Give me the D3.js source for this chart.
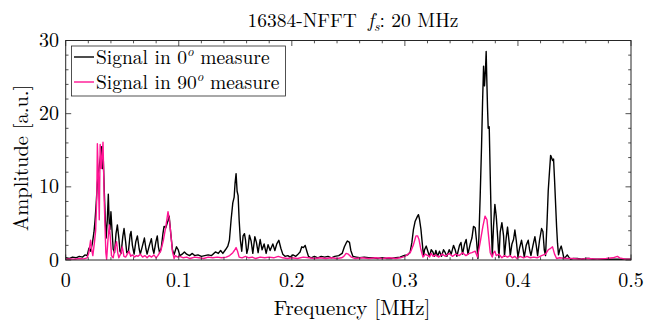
<!DOCTYPE html>
<html>
<head>
<meta charset="utf-8">
<script src="https://cdn.jsdelivr.net/npm/d3@7/dist/d3.min.js"></script>
<style>
  html, body { margin: 0; padding: 0; background: #fff; }
</style>
</head>
<body>
<svg id="chart" width="648" height="323"></svg>
<script>
// Spectrum vertices: [frequency in MHz, amplitude in a.u.]
const spectrum0 = [
  [0.000,0.3],[0.003,0.2],[0.006,0.4],[0.009,0.3],[0.012,0.5],[0.015,0.4],[0.017,0.7],[0.019,0.6],
  [0.0205,1.6],[0.022,1.2],[0.0235,2.2],[0.025,3.8],[0.026,5.5],[0.027,7.8],[0.028,10.5],[0.029,12.0],
  [0.030,13.2],[0.031,14.4],[0.0318,15.5],[0.0325,12.5],[0.0332,14.0],[0.034,10.0],[0.035,5.5],[0.0358,3.0],
  [0.0368,5.5],[0.0377,9.0],[0.0385,5.0],[0.0392,4.2],[0.040,6.6],[0.041,4.0],[0.042,1.5],[0.0432,1.0],
  [0.0445,3.6],[0.0457,4.8],[0.047,3.0],[0.048,1.2],[0.049,0.9],[0.0505,3.2],[0.0516,4.3],[0.053,2.5],
  [0.054,1.0],[0.0555,1.2],[0.057,3.5],[0.0578,3.9],[0.059,2.0],[0.0605,0.8],[0.062,2.5],[0.0634,3.3],
  [0.065,1.5],[0.066,0.8],[0.068,2.0],[0.0696,3.0],[0.071,1.5],[0.072,0.8],[0.074,2.0],[0.0758,2.9],
  [0.077,1.5],[0.078,0.9],[0.0798,2.5],[0.081,3.3],[0.082,1.8],[0.083,1.0],[0.0845,1.6],[0.086,3.6],
  [0.087,4.6],[0.0885,4.4],[0.0905,5.4],[0.0915,6.0],[0.093,3.5],[0.0944,1.4],[0.0958,0.7],[0.098,1.8],
  [0.0995,1.4],[0.101,0.6],[0.103,0.8],[0.105,1.1],[0.107,0.8],[0.1095,0.6],[0.112,0.9],[0.114,0.6],
  [0.117,0.7],[0.120,0.5],[0.123,0.6],[0.126,0.7],[0.129,0.6],[0.1324,1.1],[0.135,0.9],[0.137,1.3],
  [0.139,0.9],[0.1413,1.4],[0.1434,1.9],[0.1448,2.7],[0.1463,5.5],[0.1478,7.8],[0.149,8.6],[0.1498,10.5],
  [0.1507,11.8],[0.1516,9.4],[0.1525,8.8],[0.1534,5.5],[0.1545,2.7],[0.1557,1.2],[0.1569,3.3],[0.1581,3.6],
  [0.159,2.8],[0.1602,0.9],[0.1613,1.6],[0.1625,3.4],[0.164,2.6],[0.1655,0.9],[0.1673,3.2],[0.1687,2.4],
  [0.1702,1.0],[0.172,2.8],[0.1737,1.4],[0.1755,2.2],[0.1773,0.9],[0.179,2.1],[0.1808,1.3],[0.1832,2.2],
  [0.185,1.3],[0.1867,2.2],[0.1885,2.7],[0.1903,1.6],[0.192,0.8],[0.194,0.5],[0.1965,0.6],[0.1985,0.4],
  [0.201,0.7],[0.2035,0.5],[0.2055,0.8],[0.2073,1.1],[0.2088,1.8],[0.2103,1.7],[0.2118,2.0],[0.2133,1.2],
  [0.2147,0.5],[0.217,0.3],[0.220,0.5],[0.223,0.3],[0.226,0.5],[0.229,0.4],[0.232,0.5],[0.235,0.3],
  [0.238,0.5],[0.2415,0.6],[0.2445,0.9],[0.2465,1.8],[0.248,2.3],[0.2492,2.6],[0.251,2.4],[0.2522,1.3],
  [0.254,0.5],[0.257,0.4],[0.260,0.3],[0.264,0.4],[0.268,0.3],[0.272,0.3],[0.276,0.2],[0.280,0.3],
  [0.284,0.2],[0.288,0.2],[0.292,0.3],[0.2958,0.4],[0.299,0.6],[0.3025,0.7],[0.3047,1.1],[0.3062,2.4],
  [0.3076,4.2],[0.3091,5.3],[0.3112,6.0],[0.312,6.2],[0.3129,5.6],[0.3142,4.2],[0.3153,2.4],[0.3165,0.5],
  [0.3174,1.4],[0.3189,1.9],[0.3203,1.2],[0.3218,0.5],[0.3233,1.4],[0.3248,1.1],[0.3262,0.5],[0.3274,1.3],
  [0.3289,0.5],[0.3306,1.2],[0.3324,0.5],[0.3342,1.4],[0.3357,1.0],[0.3372,0.5],[0.3392,1.4],[0.341,0.8],
  [0.343,2.0],[0.3445,1.4],[0.346,0.5],[0.3483,2.0],[0.3496,2.4],[0.351,0.8],[0.3528,2.2],[0.3542,2.8],
  [0.3558,0.8],[0.3578,2.2],[0.3593,3.0],[0.3607,4.6],[0.3622,4.4],[0.3634,2.6],[0.3646,0.2],[0.3655,3.2],
  [0.3666,8.7],[0.3678,15.5],[0.3687,21.5],[0.3696,26.5],[0.3704,23.8],[0.3713,26.0],[0.3719,28.5],[0.3726,23.8],
  [0.3731,20.8],[0.3737,18.0],[0.3746,18.2],[0.3755,11.5],[0.3764,5.1],[0.3773,0.6],[0.3784,4.6],[0.3796,7.6],
  [0.3808,6.0],[0.382,3.3],[0.3832,0.3],[0.3843,3.8],[0.3858,5.1],[0.3873,3.3],[0.3881,0.5],[0.3896,3.0],
  [0.3908,4.5],[0.3923,2.3],[0.3932,0.6],[0.3947,2.2],[0.3961,2.8],[0.3973,4.1],[0.3985,2.7],[0.400,0.4],
  [0.4014,1.6],[0.4032,2.7],[0.4044,1.6],[0.4056,0.4],[0.4073,2.0],[0.4091,2.7],[0.4103,1.4],[0.4115,0.6],
  [0.4133,2.0],[0.415,3.2],[0.4162,2.0],[0.4174,0.6],[0.4191,2.7],[0.4209,4.3],[0.4221,3.9],[0.4233,1.4],
  [0.4244,0.6],[0.4257,5.0],[0.4268,9.5],[0.428,12.3],[0.4289,14.3],[0.4297,14.0],[0.4306,13.6],[0.4315,13.8],
  [0.4324,10.9],[0.4333,7.7],[0.4342,4.5],[0.435,2.3],[0.4359,0.7],[0.4372,1.5],[0.4383,1.9],[0.4395,1.1],
  [0.4407,0.2],[0.4421,0.4],[0.4436,0.7],[0.445,0.4],[0.4466,0.1],[0.449,0.2],[0.4525,0.2],[0.456,0.1],
  [0.460,0.2],[0.4628,0.2],[0.467,0.1],[0.4746,0.1],[0.480,0.1],[0.4864,0.1],[0.492,0.1],[0.500,0.1]
];

const spectrum90 = [
  [0.000,0.1],[0.004,0.15],[0.008,0.1],[0.012,0.2],[0.016,0.15],[0.019,0.3],[0.0205,1.0],[0.022,2.7],
  [0.0232,1.2],[0.024,0.6],[0.0255,2.5],[0.0265,4.0],[0.0275,8.6],[0.028,15.9],[0.0288,12.0],[0.0297,5.5],
  [0.0305,15.8],[0.0315,12.5],[0.033,16.1],[0.0342,7.5],[0.0355,1.0],[0.0362,0.1],[0.0375,3.0],[0.0386,4.8],
  [0.0395,3.0],[0.0405,0.6],[0.042,0.3],[0.0435,1.6],[0.045,2.5],[0.046,1.0],[0.047,0.3],[0.0488,0.9],
  [0.050,1.8],[0.0515,0.5],[0.053,0.4],[0.0545,0.8],[0.056,1.2],[0.0575,0.5],[0.059,0.7],[0.061,0.4],
  [0.0625,0.6],[0.064,0.5],[0.066,0.8],[0.068,0.4],[0.070,0.6],[0.072,0.3],[0.074,0.6],[0.076,0.4],
  [0.078,0.7],[0.080,0.3],[0.0815,0.6],[0.084,1.2],[0.0864,2.7],[0.0885,4.5],[0.0905,6.6],[0.0917,5.5],
  [0.0929,3.7],[0.0944,1.2],[0.0959,0.2],[0.097,0.6],[0.099,0.4],[0.101,0.5],[0.104,0.3],[0.107,0.4],
  [0.110,0.2],[0.114,0.4],[0.118,0.3],[0.122,0.2],[0.126,0.4],[0.130,0.3],[0.134,0.4],[0.138,0.3],
  [0.142,0.4],[0.145,0.6],[0.1478,1.0],[0.1492,1.3],[0.1507,1.7],[0.152,1.2],[0.1534,0.4],[0.156,0.3],
  [0.159,0.5],[0.162,0.3],[0.165,0.4],[0.168,0.2],[0.172,0.4],[0.176,0.3],[0.180,0.4],[0.184,0.3],
  [0.188,0.5],[0.192,0.3],[0.196,0.2],[0.200,0.3],[0.205,0.2],[0.210,0.4],[0.215,0.3],[0.220,0.2],
  [0.225,0.3],[0.230,0.2],[0.235,0.3],[0.240,0.2],[0.244,0.3],[0.246,0.5],[0.248,0.9],[0.250,0.8],
  [0.2525,0.4],[0.256,0.2],[0.262,0.3],[0.268,0.2],[0.274,0.3],[0.280,0.2],[0.286,0.3],[0.292,0.2],
  [0.296,0.3],[0.300,0.5],[0.3047,1.0],[0.3076,2.1],[0.3098,3.3],[0.3112,3.3],[0.3125,2.8],[0.3142,1.4],
  [0.316,0.4],[0.318,0.8],[0.3203,0.6],[0.3218,0.4],[0.3233,0.9],[0.325,0.5],[0.327,0.7],[0.330,0.4],
  [0.333,0.8],[0.336,0.5],[0.339,0.9],[0.342,0.5],[0.345,0.8],[0.348,0.6],[0.351,1.0],[0.354,0.6],
  [0.357,0.9],[0.3593,1.0],[0.3622,1.2],[0.3642,0.4],[0.3666,2.4],[0.369,4.6],[0.3709,6.0],[0.3726,5.5],
  [0.374,3.3],[0.3755,1.0],[0.3773,0.4],[0.3784,1.0],[0.3796,1.2],[0.3808,0.6],[0.3832,0.8],[0.3858,0.3],
  [0.388,0.6],[0.3908,0.4],[0.393,0.6],[0.395,0.3],[0.3973,0.5],[0.399,0.2],[0.402,0.5],[0.405,0.3],
  [0.408,0.5],[0.411,0.3],[0.414,0.4],[0.417,0.3],[0.4209,0.6],[0.4244,0.8],[0.4268,1.4],[0.4289,1.6],
  [0.4306,1.8],[0.4324,0.8],[0.4342,0.2],[0.437,0.3],[0.442,0.2],[0.448,0.2],[0.455,0.1],[0.462,0.2],
  [0.470,0.1],[0.478,0.2],[0.484,0.3],[0.486,0.4],[0.488,0.5],[0.490,0.3],[0.495,0.1],[0.500,0.1]
];

const xTickValues = [0, 0.1, 0.2, 0.3, 0.4, 0.5];
const xTickLabels = ["0", "0.1", "0.2", "0.3", "0.4", "0.5"];
const yTickValues = [0, 10, 20, 30];
const yTickLabels = ["0", "10", "20", "30"];
const legendLabels = ["Signal in 0", "Signal in 90"];
const seriesColors = ["#000000", "#ff1493"];

const serif = "Latin Modern Roman";
const svg = d3.select("#chart");
const plotLeft = 65.7, plotRight = 631, plotTop = 40.5, plotBottom = 260;
const axisColor = "#262626";

const x = d3.scaleLinear().domain([0, 0.5]).range([plotLeft, plotRight]);
const y = d3.scaleLinear().domain([0, 30]).range([plotBottom, plotTop]);

svg.append("rect").attr("width", 648).attr("height", 323).attr("fill", "#fff");

svg.append("clipPath").attr("id", "plotClip")
  .append("rect").attr("x", plotLeft).attr("y", plotTop - 1)
  .attr("width", plotRight - plotLeft).attr("height", plotBottom - plotTop + 1);

// Spectra
const line = d3.line().x(d => x(d[0])).y(d => y(d[1]));
const plot = svg.append("g").attr("clip-path", "url(#plotClip)");
[spectrum0, spectrum90].forEach((s, i) => {
  plot.append("path").datum(s)
    .attr("d", line)
    .attr("fill", "none")
    .attr("stroke", seriesColors[i])
    .attr("stroke-width", 1.4)
    .attr("stroke-linejoin", "round");
});

// Inward ticks on all four sides
const ticks = svg.append("g").attr("stroke", axisColor).attr("stroke-width", 0.8);
d3.range(0, 0.5001, 0.02).forEach(v => {
  const major = Math.abs(v * 10 - Math.round(v * 10)) < 1e-6;
  const len = major ? 5.5 : 2.8;
  const px = x(v);
  ticks.append("line").attr("x1", px).attr("x2", px).attr("y1", plotBottom).attr("y2", plotBottom - len);
  ticks.append("line").attr("x1", px).attr("x2", px).attr("y1", plotTop).attr("y2", plotTop + len);
});
d3.range(0, 30.001, 2).forEach(v => {
  const major = v % 10 === 0;
  const len = major ? 5.5 : 2.8;
  const py = y(v);
  ticks.append("line").attr("x1", plotLeft).attr("x2", plotLeft + len).attr("y1", py).attr("y2", py);
  ticks.append("line").attr("x1", plotRight).attr("x2", plotRight - len).attr("y1", py).attr("y2", py);
});

// Axes box
svg.append("rect")
  .attr("x", plotLeft).attr("y", plotTop)
  .attr("width", plotRight - plotLeft).attr("height", plotBottom - plotTop)
  .attr("fill", "none").attr("stroke", axisColor).attr("stroke-width", 1);

// Tick labels
svg.append("g").selectAll("text").data(xTickValues).join("text")
  .attr("font-family", serif)
  .attr("x", d => x(d)).attr("y", 286.5)
  .attr("text-anchor", "middle").attr("font-size", 20)
  .text((d, i) => xTickLabels[i]);
svg.append("g").selectAll("text").data(yTickValues).join("text")
  .attr("font-family", serif)
  .attr("x", 59).attr("y", d => y(d) + 6.5)
  .attr("text-anchor", "end").attr("font-size", 20)
  .text((d, i) => yTickLabels[i]);

// Axis titles
svg.append("text").attr("font-family", serif).attr("x", 352).attr("y", 315)
  .attr("text-anchor", "middle").attr("font-size", 21).text("Frequency [MHz]");
svg.append("text").attr("font-family", serif)
  .attr("transform", "translate(28,158) rotate(-90)")
  .attr("text-anchor", "middle").attr("font-size", 20.5).text("Amplitude [a.u.]");

// Title
const title = svg.append("text").attr("font-family", serif)
  .attr("x", 353).attr("y", 27)
  .attr("text-anchor", "middle").attr("font-size", 19.5);
title.append("tspan").text("16384-NFFT");
title.append("tspan").attr("dx", 11).attr("font-style", "italic").text("f");
title.append("tspan").attr("font-style", "italic").attr("font-size", 13.5).attr("dy", 3.5).text("s");
title.append("tspan").attr("dy", -3.5).text(": 20 MHz");

// Legend
const legend = svg.append("g");
legend.append("rect").attr("x", 71.5).attr("y", 46).attr("width", 214).attr("height", 50)
  .attr("fill", "#fff").attr("stroke", axisColor).attr("stroke-width", 0.8);
legendLabels.forEach((lab, i) => {
  const ly = 57 + i * 25;
  legend.append("line").attr("x1", 74).attr("x2", 94).attr("y1", ly).attr("y2", ly)
    .attr("stroke", seriesColors[i]).attr("stroke-width", 1.4);
  const t = legend.append("text").attr("font-family", serif)
    .attr("x", 96).attr("y", ly + 7).attr("font-size", 19.5);
  t.append("tspan").text(lab);
  t.append("tspan").attr("font-style", "italic").attr("font-size", 13).attr("dy", -8).text("o");
  t.append("tspan").attr("dy", 8).text(" measure");
});
</script>
</body>
</html>
